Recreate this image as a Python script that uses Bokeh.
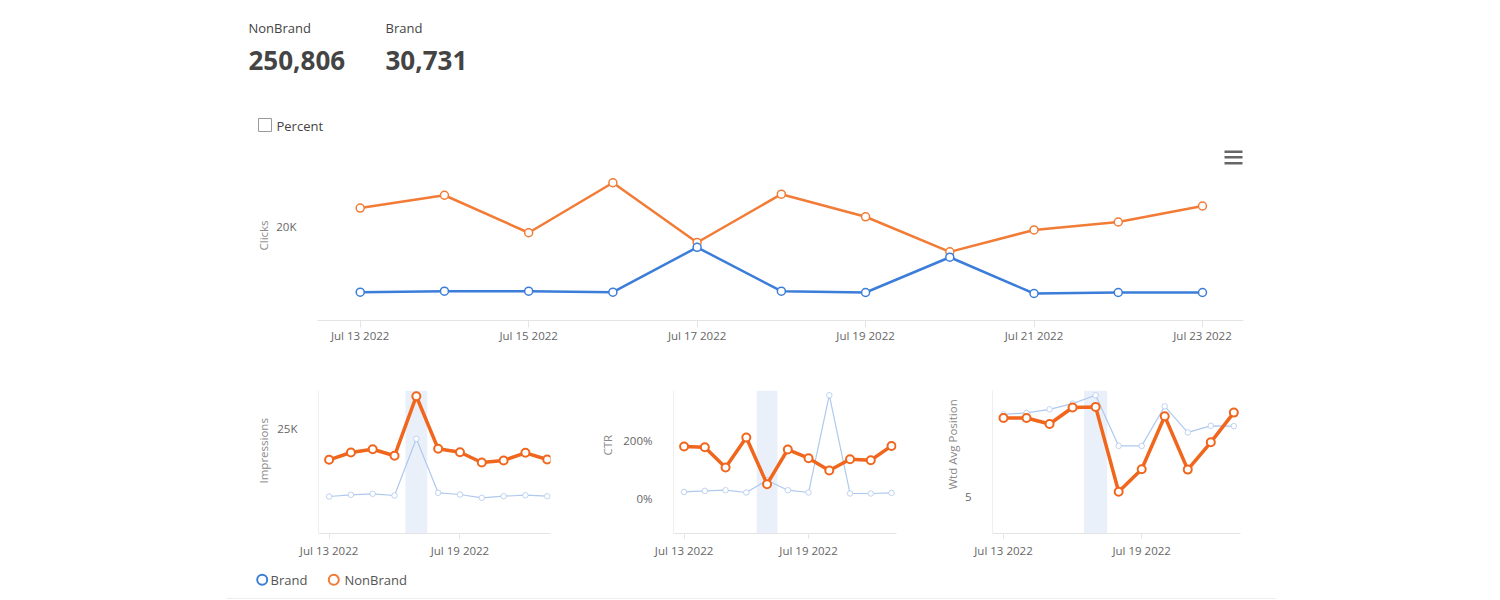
import numpy as np
import pandas as pd
from bokeh.plotting import figure
from bokeh.layouts import column, row
from bokeh.models import (Range1d, FixedTicker, DatetimeTickFormatter, PrintfTickFormatter,
                          Title, BoxAnnotation)
from bokeh.embed import file_html
from bokeh.resources import INLINE
from bokeh.core.properties import value

# ---------------- data ----------------
dates = ["2022-07-13", "2022-07-14", "2022-07-15", "2022-07-16", "2022-07-17", "2022-07-18",
         "2022-07-19", "2022-07-20", "2022-07-21", "2022-07-22", "2022-07-23"]
header_labels = ["NonBrand", "Brand"]
header_totals = [250806, 30731]

clicks_nonbrand = [25300, 29000, 18200, 32600, 15400, 29300, 22800, 12700, 19000, 21300, 25900]
clicks_brand = [1080, 1370, 1370, 1080, 14000, 1370, 990, 11150, 700, 990, 990]

impressions_nonbrand = [17560, 19310, 20100, 18520, 32820, 20200, 19380, 16910, 17390, 19240, 17630]
impressions_brand = [8750, 9160, 9400, 8990, 22600, 9640, 9230, 8440, 8820, 9060, 8820]

ctr_nonbrand = [180.6, 178.1, 107.6, 211.8, 49.7, 170.1, 139.9, 97.2, 136.5, 133.0, 182.6]
ctr_brand = [22.9, 26.4, 28.8, 20.8, 63.5, 28.8, 20.8, 358.7, 17.4, 17.4, 19.4]

position_nonbrand = [7.63, 7.63, 7.43, 7.98, 8.00, 5.17, 5.92, 7.69, 5.91, 6.82, 7.81]
position_brand = [7.75, 7.80, 7.92, 8.11, 8.39, 6.70, 6.70, 8.02, 7.15, 7.37, 7.36]

highlight_date = "2022-07-17"
clicks_ticks = [20000]
impressions_ticks = [25000]
ctr_ticks = [0, 200]
position_ticks = [5]

# ---------------- styling ----------------
FONT = "Open Sans"
BLUE = "#3B7DD8"
ORANGE = "#F27B35"
ORANGE_S = "#F0661C"
LIGHT_BLUE = "#AFC8EE"
AXIS_GRAY = "#e4e4e4"
TICK_TEXT = "#666666"
TITLE_GRAY = "#8a8a8a"

x = pd.to_datetime(dates)
xms = [t.value / 1e6 for t in x]
DAY = 86400000.0
fmt_all = "%b %d %Y"
dt_fmt = DatetimeTickFormatter(microseconds=fmt_all, milliseconds=fmt_all, seconds=fmt_all,
                               minsec=fmt_all, minutes=fmt_all, hourmin=fmt_all, hours=fmt_all,
                               days=fmt_all, months=fmt_all, years=fmt_all)


def base_style(p):
    p.outline_line_color = None
    p.grid.visible = False
    p.background_fill_color = "white"
    p.border_fill_color = "white"
    xa = p.xaxis[0]
    xa.axis_line_color = AXIS_GRAY
    xa.major_tick_line_color = AXIS_GRAY
    xa.minor_tick_line_color = None
    xa.major_tick_in = 0
    xa.formatter = dt_fmt
    xa.major_label_text_font = FONT
    xa.major_label_text_font_size = "11.5px"
    xa.major_label_text_color = TICK_TEXT
    ya = p.yaxis[0]
    ya.major_tick_line_color = None
    ya.minor_tick_line_color = None
    ya.major_label_text_font = FONT
    ya.major_label_text_font_size = "11.5px"
    ya.major_label_text_color = TICK_TEXT
    ya.major_label_standoff = 15


def side_title(p, text, offset, standoff):
    p.add_layout(Title(text=text, align="left", offset=offset, standoff=standoff,
                       text_font=FONT, text_font_size="11.5px", text_font_style="normal",
                       text_color=TITLE_GRAY), "left")


def canvas(w, h):
    c = figure(width=w, height=h, x_range=Range1d(0, w), y_range=Range1d(h, 0),
               output_backend="svg", toolbar_location=None,
               x_axis_location=None, y_axis_location=None,
               min_border_left=0, min_border_right=0, min_border_top=0, min_border_bottom=0)
    c.outline_line_color = None
    c.grid.visible = False
    return c


# ---------------- header canvas ----------------
hdr = canvas(1500, 170)
hx = [248, 385]
hdr.text(x=hx, y=[27.5, 27.5], text=header_labels, text_font=value(FONT),
         text_font_size="13px", text_color="#444444", text_align="left", text_baseline="middle")
hdr.text(x=hx, y=[59.5, 59.5], text=[f"{v:,}" for v in header_totals], text_font=value(FONT),
         text_font_size="26px", text_font_style="bold", text_color="#444444",
         text_align="left", text_baseline="middle")
# checkbox + label
hdr.quad(left=[258], right=[271], top=[118], bottom=[131], fill_color="white",
         line_color="#9a9a9a", line_width=1)
hdr.text(x=[276], y=[125], text=["Percent"], text_font=value(FONT), text_font_size="13px",
         text_color="#444444", text_align="left", text_baseline="middle")
# hamburger menu
hdr.quad(left=[1224, 1224, 1224], right=[1242, 1242, 1242], top=[150, 155.5, 161.5],
         bottom=[152.5, 158, 164], fill_color="#666666", line_color=None)

# ---------------- main chart ----------------
main = figure(width=1500, height=195, x_axis_type="datetime",
              x_range=Range1d(xms[0] - 0.507 * DAY, xms[-1] + 0.487 * DAY),
              y_range=Range1d(-7072, 36128),
              output_backend="svg", toolbar_location=None,
              min_border_left=317, min_border_right=257, min_border_top=0, min_border_bottom=45)
base_style(main)
main.xaxis[0].ticker = FixedTicker(ticks=xms[::2])
main.xaxis[0].major_tick_out = 7
main.xaxis[0].major_label_standoff = 0
main.yaxis[0].axis_line_color = None
main.yaxis[0].ticker = FixedTicker(ticks=clicks_ticks)
main.yaxis[0].major_label_overrides = {t: f"{t // 1000}K" for t in clicks_ticks}
side_title(main, "Clicks", 70, 6)
main.line(xms, clicks_nonbrand, line_color=ORANGE, line_width=2.5)
main.scatter(xms, clicks_nonbrand, size=8, fill_color="white", line_color=ORANGE, line_width=1.5)
main.line(xms, clicks_brand, line_color=BLUE, line_width=2.5)
main.scatter(xms, clicks_brand, size=8, fill_color="white", line_color=BLUE, line_width=1.5)


# ---------------- small charts ----------------
def small(width, mbl, mbr, pad_l, pad_r, yr, yticks, nb, br, label, off, standoff,
          formatter=None, overrides=None):
    p = figure(width=width, height=195, x_axis_type="datetime",
               x_range=Range1d(xms[0] - pad_l * DAY, xms[-1] + pad_r * DAY),
               y_range=Range1d(*yr), output_backend="svg", toolbar_location=None,
               min_border_left=mbl, min_border_right=mbr, min_border_top=25,
               min_border_bottom=27)
    base_style(p)
    p.xaxis[0].ticker = FixedTicker(ticks=xms[::6])
    p.xaxis[0].major_tick_out = 5
    p.xaxis[0].major_label_standoff = 4
    p.yaxis[0].axis_line_color = "#efefef"
    p.yaxis[0].ticker = FixedTicker(ticks=yticks)
    if formatter is not None:
        p.yaxis[0].formatter = formatter
    if overrides is not None:
        p.yaxis[0].major_label_overrides = overrides
    side_title(p, label, off, standoff)
    hi = pd.Timestamp(highlight_date).value / 1e6
    p.add_layout(BoxAnnotation(left=hi - 0.5 * DAY, right=hi + 0.5 * DAY, fill_color="#EAF0F9",
                               fill_alpha=1.0, line_color=None, level="underlay"))
    p.line(xms, br, line_color=LIGHT_BLUE, line_width=1.2)
    p.scatter(xms, br, size=5.5, fill_color="white", line_color=LIGHT_BLUE, line_width=1,
              line_alpha=0.8)
    p.line(xms, nb, line_color=ORANGE_S, line_width=3.5)
    p.scatter(xms, nb, size=8, fill_color="white", line_color=ORANGE_S, line_width=2)
    return p


s1 = small(580, 318, 30, 0.485, 0.15, (-128, 34192), impressions_ticks,
           impressions_nonbrand, impressions_brand, "Impressions", 50, 8,
           overrides={t: f"{t // 1000}K" for t in impressions_ticks})
s2 = small(336, 93, 20, 0.51, 0.24, (-121.5, 375.0), ctr_ticks,
           ctr_nonbrand, ctr_brand, "CTR", 78, 11,
           formatter=PrintfTickFormatter(format="%d%%"))
s3 = small(584, 76, 260, 0.477, 0.29, (3.78, 8.547), position_ticks,
           position_nonbrand, position_brand, "Wtd Avg Position", 44, 4)

# ---------------- legend canvas ----------------
leg = canvas(1500, 40)
series_names = ["Brand", "NonBrand"]
series_colors = [BLUE, ORANGE]
leg.scatter(x=[261.7, 333.3], y=[19.3, 19.3], size=10, fill_color="white",
            line_color=series_colors, line_width=2)
leg.text(x=[270, 344], y=[19.3, 19.3], text=series_names, text_font=value(FONT),
         text_font_size="13px", text_color="#555555", text_align="left", text_baseline="middle")
leg.segment(x0=[226], y0=[38], x1=[1275], y1=[38], line_color="#eeeeee", line_width=1)

layout = column(row(hdr), main, row(s1, s2, s3), row(leg))
open("out.html", "w").write(file_html(layout, INLINE))
